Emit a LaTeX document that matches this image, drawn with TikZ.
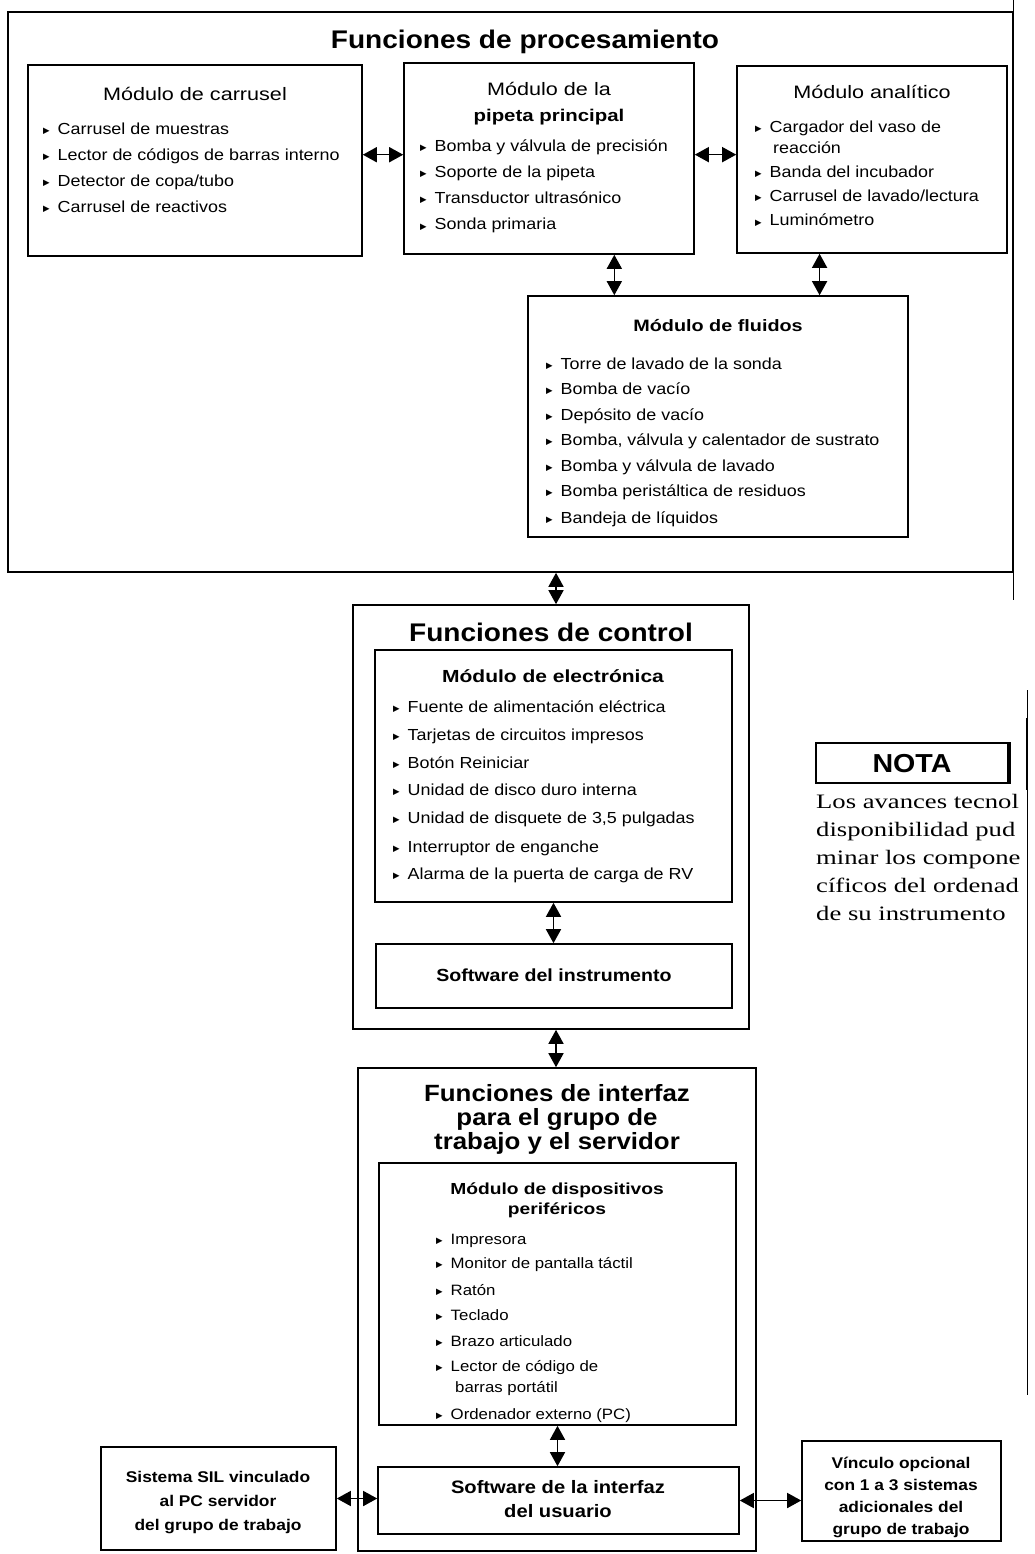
\documentclass[tikz,border=0pt]{standalone}
\usepackage{fontspec}
\setmainfont{Liberation Sans}[FakeStretch=1.12]
\newfontfamily\hdfont{Liberation Sans}[FakeStretch=1.1]
\newfontfamily\mtfont{Liberation Sans}[FakeStretch=1.2]
\newfontfamily\srfont{Liberation Serif}[FakeStretch=1.3]
\newfontfamily\djfont{DejaVu Sans}
\usetikzlibrary{arrows.meta,fit,calc}
\newcommand\bul{\raisebox{1pt}{\djfont\fontsize{8.5}{8.5}\selectfont ▶}\hspace{8pt}}
\begin{document}
\begin{tikzpicture}[x=1pt,y=-1pt,
  box/.style={draw,line width=1.6pt,inner sep=0pt},
  hdt/.style={anchor=base,inner sep=0pt,font=\hdfont\bfseries\fontsize{25.5}{25.5}\selectfont},
  mtr/.style={anchor=base,inner sep=0pt,font=\mtfont\fontsize{18}{18}\selectfont},
  mtb/.style={anchor=base,inner sep=0pt,font=\mtfont\bfseries\fontsize{16.5}{16.5}\selectfont},
  item/.style={anchor=base west,inner sep=0pt,font=\fontsize{16}{16}\selectfont},
  pitem/.style={anchor=base west,inner sep=0pt,font=\fontsize{15}{15}\selectfont},
  swt/.style={anchor=base,inner sep=0pt,font=\bfseries\fontsize{17.5}{17.5}\selectfont},
  sidet/.style={anchor=base,inner sep=0pt,font=\bfseries\fontsize{15.5}{15.5}\selectfont},
  notet/.style={anchor=base west,inner sep=0pt,font=\srfont\fontsize{20.5}{20.5}\selectfont},
  dbl/.style={line width=1.5pt,{Triangle[width=15pt,length=14pt]}-{Triangle[width=15pt,length=14pt]}},
  edgeline/.style={line width=0.8pt}]
\useasboundingbox (0,0) rectangle (1035,1554);

% page edge lines
\coordinate (e1) at (1013,0); \coordinate (e2) at (1013,600);
\coordinate (e3) at (1013,20); \coordinate (e4) at (1013,130);
\coordinate (e5) at (1027,690); \coordinate (e6) at (1027,1395);
\coordinate (e7) at (1027,718); \coordinate (e8) at (1027,790);
\draw[edgeline] (e1) -- (e2);
\draw[line width=2pt] (e3) -- (e4);
\draw[edgeline] (e5) -- (e6);
\draw[line width=2.5pt] (e7) -- (e8);

% ---------- processing ----------
\node[box,fit={(8,12) (1013,572)}] (proc) {};
\node[hdt] (tproc) at (525,49) {Funciones de procesamiento};

\node[box,fit={(28,65) (362,256)}] (carr) {};
\node[mtr] (tcarr) at (195,101) {Módulo de carrusel};
\node[item] (c1) at (43,135) {\bul Carrusel de muestras};
\node[item] (c2) at (43,161) {\bul Lector de códigos de barras interno};
\node[item] (c3) at (43,187) {\bul Detector de copa/tubo};
\node[item] (c4) at (43,213) {\bul Carrusel de reactivos};

\node[box,fit={(404,63) (694,254)}] (pip) {};
\node[mtr] (tpip1) at (549,96) {Módulo de la};
\node[mtb,font=\mtfont\bfseries\fontsize{17}{17}\selectfont] (tpip2) at (549,122) {pipeta principal};
\node[item] (p1) at (420,152) {\bul Bomba y válvula de precisión};
\node[item] (p2) at (420,178) {\bul Soporte de la pipeta};
\node[item] (p3) at (420,204) {\bul Transductor ultrasónico};
\node[item] (p4) at (420,230) {\bul Sonda primaria};

\node[box,fit={(737,66) (1007,253)}] (ana) {};
\node[mtr] (tana) at (872,99) {Módulo analítico};
\node[item] (a1) at (755,133) {\bul Cargador del vaso de};
\node[item] (a1b) at (773,154) {reacción};
\node[item] (a2) at (755,178) {\bul Banda del incubador};
\node[item] (a3) at (755,202) {\bul Carrusel de lavado/lectura};
\node[item] (a4) at (755,226) {\bul Luminómetro};

\node[box,fit={(528,296) (908,537)}] (flu) {};
\node[mtb] (tflu) at (718,331) {Módulo de fluidos};
\node[item] (f1) at (546,369) {\bul Torre de lavado de la sonda};
\node[item] (f2) at (546,394) {\bul Bomba de vacío};
\node[item] (f3) at (546,420) {\bul Depósito de vacío};
\node[item] (f4) at (546,445) {\bul Bomba, válvula y calentador de sustrato};
\node[item] (f5) at (546,471) {\bul Bomba y válvula de lavado};
\node[item] (f6) at (546,496) {\bul Bomba peristáltica de residuos};
\node[item] (f7) at (546,523) {\bul Bandeja de líquidos};

% ---------- control ----------
\node[box,fit={(353,605) (749,1029)}] (ctl) {};
\node[hdt] (tctl) at (551,641) {Funciones de control};
\node[box,fit={(375,650) (732,902)}] (ele) {};
\node[mtb,font=\mtfont\bfseries\fontsize{17.5}{17.5}\selectfont] (tele) at (553,682) {Módulo de electrónica};
\node[item] (el1) at (393,712) {\bul Fuente de alimentación eléctrica};
\node[item] (el2) at (393,740) {\bul Tarjetas de circuitos impresos};
\node[item] (el3) at (393,768) {\bul Botón Reiniciar};
\node[item] (el4) at (393,795) {\bul Unidad de disco duro interna};
\node[item] (el5) at (393,823) {\bul Unidad de disquete de 3,5 pulgadas};
\node[item] (el6) at (393,852) {\bul Interruptor de enganche};
\node[item] (el7) at (393,879) {\bul Alarma de la puerta de carga de RV};
\node[box,fit={(376,944) (732,1008)}] (sw) {};
\node[swt] (tsw) at (554,981) {Software del instrumento};

% ---------- interface ----------
\node[box,fit={(358,1068) (756,1551)}] (ifc) {};
\node[hdt,font=\hdfont\bfseries\fontsize{23.5}{23.5}\selectfont] (ti1) at (557,1101) {Funciones de interfaz};
\node[hdt,font=\hdfont\bfseries\fontsize{23.5}{23.5}\selectfont] (ti2) at (557,1125) {para el grupo de};
\node[hdt,font=\hdfont\bfseries\fontsize{23.5}{23.5}\selectfont] (ti3) at (557,1149) {trabajo y el servidor};
\node[box,fit={(379,1163) (736,1425)}] (per) {};
\node[mtb,font=\mtfont\bfseries\fontsize{16}{16}\selectfont] (tper1) at (557,1194) {Módulo de dispositivos};
\node[mtb,font=\mtfont\bfseries\fontsize{16}{16}\selectfont] (tper2) at (557,1214) {periféricos};
\node[pitem] (pe1) at (436,1244) {\bul Impresora};
\node[pitem] (pe2) at (436,1268) {\bul Monitor de pantalla táctil};
\node[pitem] (pe3) at (436,1295) {\bul Ratón};
\node[pitem] (pe4) at (436,1320) {\bul Teclado};
\node[pitem] (pe5) at (436,1346) {\bul Brazo articulado};
\node[pitem] (pe6) at (436,1371) {\bul Lector de código de};
\node[pitem] (pe6b) at (455,1392) {barras portátil};
\node[pitem] (pe7) at (436,1419) {\bul Ordenador externo (PC)};
\node[box,fit={(378,1467) (739,1534)}] (swi) {};
\node[swt,font=\bfseries\fontsize{18}{18}\selectfont] (tswi1) at (558,1493) {Software de la interfaz};
\node[swt,font=\bfseries\fontsize{18}{18}\selectfont] (tswi2) at (558,1517) {del usuario};

\node[box,fit={(101,1447) (336,1550)}] (sil) {};
\node[sidet] (ts1) at (218,1482) {Sistema SIL vinculado};
\node[sidet] (ts2) at (218,1506) {al PC servidor};
\node[sidet] (ts3) at (218,1530) {del grupo de trabajo};

\node[box,fit={(802,1441) (1001,1541)}] (vin) {};
\node[sidet] (tv1) at (901,1468) {Vínculo opcional};
\node[sidet] (tv2) at (901,1490) {con 1 a 3 sistemas};
\node[sidet] (tv3) at (901,1512) {adicionales del};
\node[sidet] (tv4) at (901,1534) {grupo de trabajo};

% ---------- nota ----------
\node[box,fit={(816,743) (1008,783)}] (nota) {};
\draw[line width=3.5pt] (nota.north east) -- (nota.south east);
\node[hdt,font=\hdfont\bfseries\fontsize{26}{26}\selectfont] (tnota) at (912,772) {NOTA};
\begin{scope}
\clip (810,786) rectangle (1026,940);
\node[notet] (n1) at (816,808) {Los avances tecnol};
\node[notet] (n2) at (816,836) {disponibilidad pud};
\node[notet] (n3) at (816,864) {minar los compone};
\node[notet] (n4) at (816,892) {cíficos del ordenad};
\node[notet] (n5) at (816,920) {de su instrumento};
\end{scope}

% ---------- connectors ----------
\path ($(carr.north east)!0.47!(carr.south east)$) coordinate (h1);
\draw[dbl] (h1) -- (h1 -| pip.west);
\path ($(pip.north east)!0.48!(pip.south east)$) coordinate (h2);
\draw[dbl] (h2) -- (h2 -| ana.west);
\path ($(pip.south west)!0.724!(pip.south east)$) coordinate (v1);
\draw[dbl] (v1) -- (v1 |- flu.north);
\path ($(ana.south west)!0.307!(ana.south east)$) coordinate (v2);
\draw[dbl] (v2) -- (v2 |- flu.north);
\path ($(ctl.north)+(5,0)$) coordinate (v3);
\draw[dbl] (v3 |- proc.south) -- (v3);
\draw[dbl] (ele.south) -- (ele.south |- sw.north);
\path ($(ctl.south)+(5,0)$) coordinate (v4);
\draw[dbl] (v4) -- (v4 |- ifc.north);
\draw[dbl] (per.south) -- (per.south |- swi.north);
\draw[dbl] (sil.east) -- (sil.east -| swi.west);
\draw[dbl] (swi.east) -- (swi.east -| vin.west);
\end{tikzpicture}
\end{document}
